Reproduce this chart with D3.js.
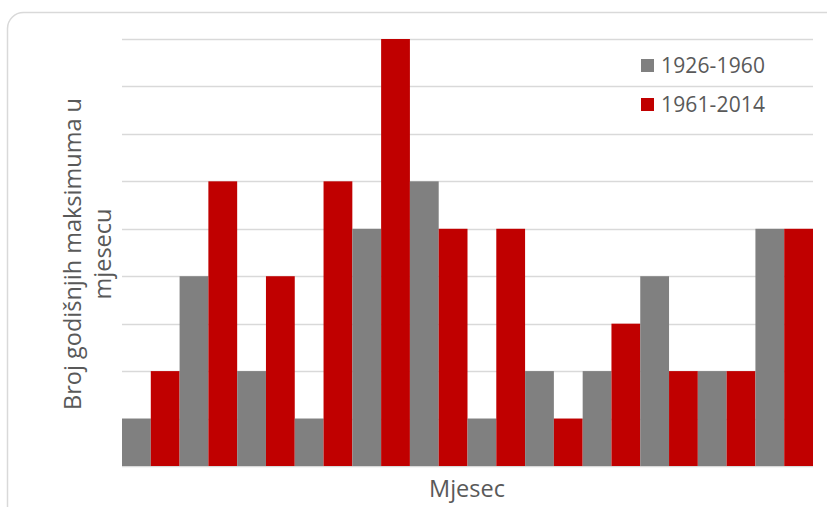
<!DOCTYPE html>
<html><head><meta charset="utf-8">
<script src="https://cdn.jsdelivr.net/npm/d3@7"></script>
<style>body{margin:0;background:#fff}svg{display:block}text{font-family:"Open Sans",Calibri,sans-serif;fill:#595959}</style>
</head><body><svg id="c" width="827" height="507"></svg>
<script>
const months = ["1","2","3","4","5","6","7","8","9","10","11","12"];
const seriesNames = ["1926-1960","1961-2014"];
const s1926 = [1,4,2,1,5,6,1,2,2,4,2,5];
const s1961 = [2,6,4,6,9,5,5,1,3,2,2,5];
const yTicks = [0,1,2,3,4,5,6,7,8,9];
const colors = ["#808080","#c00000"];

const svg = d3.select("#c");
svg.append("rect").attr("x",7.5).attr("y",12.5).attr("width",840).attr("height",520)
  .attr("rx",16).attr("fill","#fff").attr("stroke","#d9d9d9").attr("stroke-width",1.5);

const x0 = d3.scaleBand().domain(months).range([122,813]).padding(0);
const x1 = d3.scaleBand().domain(seriesNames).range([0,x0.bandwidth()]).padding(0);
const y = d3.scaleLinear().domain([0,9]).range([466,39]);

svg.append("g").selectAll("line").data(yTicks).join("line")
  .attr("x1",122).attr("x2",813).attr("y1",d=>Math.round(y(d))+0.5).attr("y2",d=>Math.round(y(d))+0.5)
  .attr("stroke","#d9d9d9").attr("stroke-width",1.3);

const data = months.map((m,i)=>({m, vals:[s1926[i],s1961[i]]}));
const g = svg.append("g").selectAll("g").data(data).join("g").attr("transform",d=>`translate(${x0(d.m)},0)`);
g.selectAll("rect").data(d=>d.vals.map((v,j)=>({v,j}))).join("rect")
  .attr("x",d=>x1(seriesNames[d.j])).attr("width",x1.bandwidth())
  .attr("y",d=>y(d.v)).attr("height",d=>y(0)-y(d.v)).attr("fill",d=>colors[d.j]);

// legend
const lg = svg.append("g").selectAll("g").data(seriesNames).join("g")
  .attr("transform",(d,i)=>`translate(641,${59+i*39})`);
lg.append("rect").attr("width",13).attr("height",13).attr("fill",(d,i)=>colors[i]);
lg.append("text").attr("x",20).attr("y",6.5).attr("dy","0.36em").attr("font-size",21).attr("textLength",104).text(d=>d);

// axis titles
svg.append("text").attr("x",467).attr("y",497).attr("text-anchor","middle").attr("font-size",23.5).text("Mjesec");
const yt = svg.append("text").attr("transform","translate(0,254) rotate(-90)").attr("text-anchor","middle").attr("font-size",23.5);
yt.append("tspan").attr("x",0).attr("y",81).text("Broj godišnjih maksimuma u");
yt.append("tspan").attr("x",0).attr("y",111).text("mjesecu");
</script></body></html>
